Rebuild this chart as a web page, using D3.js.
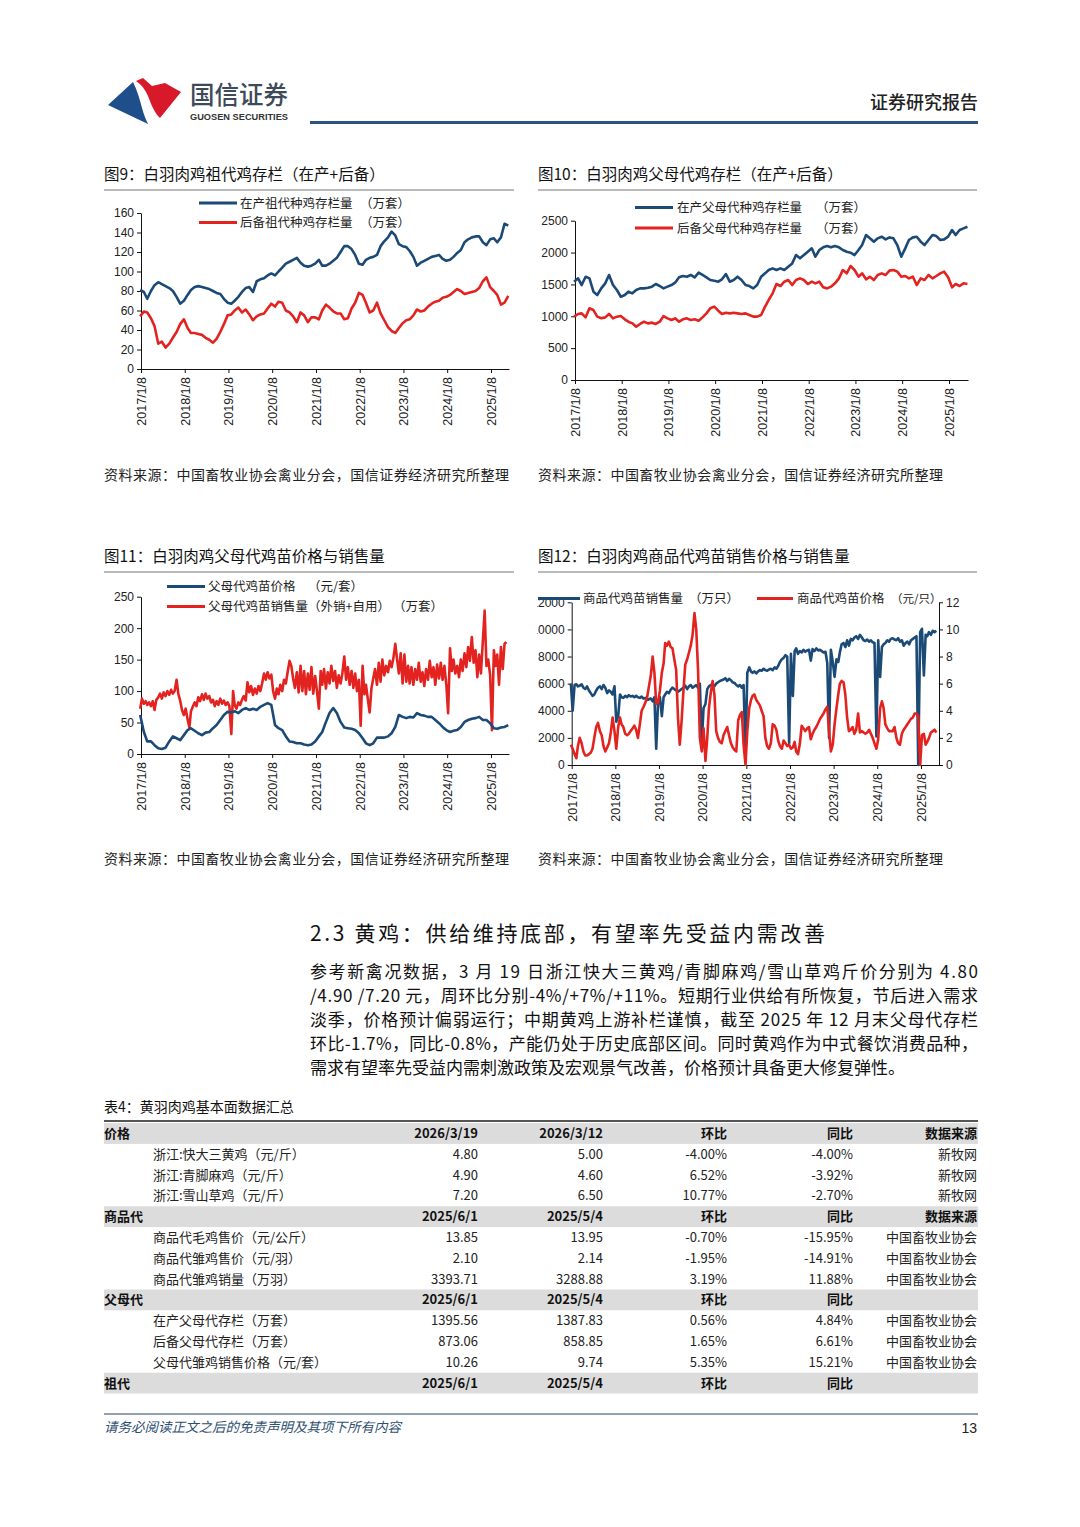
<!DOCTYPE html>
<html><head><meta charset="utf-8">
<script src="https://cdn.jsdelivr.net/npm/d3@7"></script>
<style>body{margin:0;background:#fff}svg text{font-family:"Noto Sans CJK SC","Noto Sans",sans-serif}</style>
</head><body>
<svg id="page" width="1080" height="1527"></svg>
<script>
// ---------- DATA ----------
const yearTicks = d3.range(2017, 2026).map(y => new Date(y, 0, 8));
const months = d3.timeMonth.range(new Date(2017,0,1), new Date(2025,6,1)); // 2017-01 .. 2025-06
const halfMonths = d3.timeMonth.range(new Date(2017,0,1), new Date(2025,5,1)).flatMap(d => [d, d3.timeDay.offset(d,15)]);

// 图9 祖代 (万套)
const gpProducing = [81,79,72,80,86,89,87,85,83,80, 74,67,70,76,81,84,85,84,83,82, 80,78,77,72,68,67,70,74,79,83, 84,79,90,92,93,96,98,96,100,104, 108,110,112,114,109,106,105,106,108,112, 106,106,108,111,114,120,126,126,123,117, 108,107,112,114,115,117,126,131,135,141, 137,128,126,125,121,115,106,109,111,113, 115,116,117,113,111,112,115,119,122,130, 133,135,136,136,130,127,133,134,130,135, 149,147];
const gpReserve = [54,59,58,52,44,26,28,22,26,32, 38,46,51,42,37,37,36,35,32,30, 27,31,38,46,55,56,60,63,58,61, 56,50,54,56,57,62,67,64,69,68, 60,58,54,48,58,55,48,53,53,51, 60,66,63,59,57,57,51,52,62,68, 78,76,68,58,60,68,57,50,43,39, 37,42,47,50,51,55,61,59,60,64, 67,69,70,73,74,76,79,82,80,77, 78,79,80,83,90,94,84,80,76,66, 68,75];

// 图10 父母代 (万套)
const ppProducing = [1543,1595,1490,1620,1595,1386,1334,1438,1517,1648, 1490,1412,1307,1334,1386,1360,1412,1438,1438,1449, 1465,1506,1475,1438,1465,1490,1527,1611,1632,1621, 1648,1611,1684,1648,1611,1569,1558,1543,1580,1663, 1543,1569,1621,1569,1490,1475,1438,1490,1621,1674, 1726,1752,1726,1752,1726,1778,1830,1961,1909,1961, 2013,2066,1935,2040,2082,2103,2082,2103,2082,2040, 2013,1998,1961,2040,2118,2275,2223,2171,2223,2249, 2207,2238,2223,2118,1935,2066,2197,2238,2249,2171, 2118,2197,2275,2259,2197,2207,2249,2354,2275,2354, 2380,2406];
const ppReserve = [994,1036,1046,983,1125,1098,994,968,983,1036, 968,994,1004,952,915,889,837,879,915,889, 900,879,915,1004,968,941,968,915,952,968, 941,952,931,983,1046,1125,1151,1088,1036,1056, 1046,1056,1046,1036,1046,1020,994,994,1020,1151, 1255,1360,1506,1475,1543,1569,1490,1569,1595,1569, 1506,1543,1517,1543,1454,1438,1465,1517,1595,1726, 1674,1789,1726,1621,1674,1580,1621,1569,1648,1674, 1648,1716,1726,1700,1621,1632,1595,1621,1490,1595, 1569,1648,1595,1632,1674,1700,1611,1454,1506,1475, 1517,1506];

// 图11 父母代鸡苗 价格(元/套) 月度, 销售量(万套) 半月
const ppChickPrice = [62,35,20,20,14,9,8,10,20,28, 25,22,30,38,41,37,33,30,34,35, 41,46,54,62,67,66,68,65,70,73, 70,72,70,75,78,81,78,46,41,38, 28,20,19,17,17,15,14,15,20,28, 35,51,65,73,65,51,42,41,40,38, 33,25,17,14,17,26,26,26,28,33, 43,62,59,57,59,58,65,62,61,59, 59,54,49,43,38,35,37,38,43,51, 54,56,57,59,54,54,49,41,40,42, 43,46];
const ppChickSales = [72,88,80,84,78,82,76,84,70,86, 90,96,88,98,92,100,94,102,96,100, 118,95,85,70,62,72,55,42,68,75, 82,76,90,84,95,86,96,88,92,82, 86,76,84,78,88,80,85,78,82,76, 32,100,78,72,82,78,86,92,85,114, 98,108,94,104,96,108,100,112,128,118, 130,120,126,100,88,104,95,110,100,118, 112,130,148,140,120,105,130,98,140,100, 132,95,128,102,138,96,124,100,72,132, 110,135,104,130,112,140,116,132,105,125, 112,128,155,118,138,110,132,105,128,100, 118,45,140,95,110,88,66,105,120,135, 110,145,115,150,125,140,130,148,138,152, 175,150,128,160,112,158,115,140,112,138, 110,135,118,145,115,130,108,135,118,148, 122,138,110,142,120,145,118,140,110,65, 168,132,150,128,140,122,150,132,160,138, 170,148,186,145,165,122,158,128,180,228, 140,150,125,38,165,140,158,110,170,135, 175,178];

// 图12 商品代鸡苗 销售量(万只) 左轴, 价格(元/只) 右轴, 半月
const brChickSales = [6000,4000,5900,5950,5800,5850,5950,5700,5600,5800, 5500,5300,5100,5200,5500,5700,5800,5600,5900,5700, 5300,5500,5400,5200,5800,3200,3600,5200,5000,4950, 5100,5000,5150,5050,5100,5000,5100,5000,4950,5050, 4900,4950,4800,4850,4900,4700,5000,1200,4800,5000, 3600,5000,5200,5400,5300,5550,5700,5600,5500,5400, 5500,5600,5700,5850,5600,5800,5900,5700,5800,5900, 5700,6000,1600,4200,4500,5600,5800,5900,5950,5800, 6000,6100,6200,6250,6300,6400,6200,6350,6250,6100, 6050,5900,5800,5900,5700,5900,600,6800,7200,6900, 6800,6900,6750,6900,7000,6950,7100,7000,6950,7050, 7100,7000,7200,7100,7300,7600,7800,7900,8100,8000, 1600,8200,5100,8400,8600,8200,8400,8300,8500,8350, 8450,8500,7700,8550,8400,8600,8450,8500,8400,8300, 8350,7500,2000,8500,7600,6500,7800,7600,8300,8900, 9000,8700,9200,8800,9300,9200,9400,9500,9300,9600, 9400,9200,9150,9250,9100,9200,9050,9000,2100,9200, 6500,8700,8900,9000,9200,9100,9300,9350,9250,9200, 9350,9100,9200,8800,9000,9100,8900,9200,9300,9400, 9500,0,9800,10050,6600,9600,9500,9800,9600,9900, 9800,9900];
const brChickPrice = [1.5,1.2,0.8,0.5,1.4,2.0,1.6,1.0,0.7,0.7, 0.8,0.9,1.2,2.0,2.8,3.1,2.5,2.2,1.4,1.0, 1.3,1.6,2.4,3.5,2.5,1.2,2.8,3.5,3.0,2.8, 2.3,2.2,2.3,2.5,2.7,2.9,2.6,2.0,3.0,4.0, 4.3,4.6,5.0,5.8,6.6,8.0,6.8,4.5,4.6,5.5, 6.8,7.5,9.0,8.8,9.1,8.7,8.6,7.8,7.0,3.5, 1.5,3.2,5.5,7.4,7.8,8.3,8.8,9.6,11.2,10.0, 7.0,2.0,1.0,2.7,0.3,2.0,4.2,5.3,6.2,5.2, 2.5,2.0,1.7,1.6,2.2,2.5,2.8,2.2,1.6,1.3, 1.1,1.0,3.3,3.7,3.9,1.5,0.0,2.5,4.2,4.8, 5.1,5.2,4.8,4.6,4.4,4.0,3.6,2.0,1.4,1.2, 1.6,3.0,2.9,2.6,1.8,1.4,1.2,1.8,1.6,1.4, 1.5,1.2,1.3,1.7,1.0,0.8,1.6,2.9,2.7,2.5, 2.7,2.8,1.9,2.3,2.6,2.8,3.1,3.4,3.6,3.8, 4.1,4.3,2.5,1.0,1.5,3.0,4.2,5.2,6.0,6.2, 6.1,5.2,3.5,2.5,2.6,2.8,2.3,2.6,3.8,2.4, 2.5,2.4,2.3,2.4,2.6,2.3,2.0,1.6,1.2,1.9, 4.2,4.7,4.2,3.0,2.7,2.5,2.5,2.5,2.8,2.0, 1.6,1.5,2.3,2.6,2.8,3.0,3.2,3.4,3.5,3.8, 3.8,3.6,0.0,2.2,2.3,1.5,1.7,2.0,2.4,2.5, 2.6,2.4];

// Tick values
const ticks9 = d3.range(0, 161, 20);
const ticks10 = d3.range(0, 2501, 500);
const ticks11 = d3.range(0, 251, 50);
const ticks12L = d3.range(0, 12001, 2000);
const ticks12R = d3.range(0, 13, 2);

// Table
const tableHeads = [
  ['价格','2026/3/19','2026/3/12','环比','同比','数据来源'],
  ['商品代','2025/6/1','2025/5/4','环比','同比','数据来源'],
  ['父母代','2025/6/1','2025/5/4','环比','同比',''],
  ['祖代','2025/6/1','2025/5/4','环比','同比','']
];
const tableRows = [
  [['浙江:快大三黄鸡（元/斤）','4.80','5.00','-4.00%','-4.00%','新牧网'],
   ['浙江:青脚麻鸡（元/斤）','4.90','4.60','6.52%','-3.92%','新牧网'],
   ['浙江:雪山草鸡（元/斤）','7.20','6.50','10.77%','-2.70%','新牧网']],
  [['商品代毛鸡售价（元/公斤）','13.85','13.95','-0.70%','-15.95%','中国畜牧业协会'],
   ['商品代雏鸡售价（元/羽）','2.10','2.14','-1.95%','-14.91%','中国畜牧业协会'],
   ['商品代雏鸡销量（万羽）','3393.71','3288.88','3.19%','11.88%','中国畜牧业协会']],
  [['在产父母代存栏（万套）','1395.56','1387.83','0.56%','4.84%','中国畜牧业协会'],
   ['后备父母代存栏（万套）','873.06','858.85','1.65%','6.61%','中国畜牧业协会'],
   ['父母代雏鸡销售价格（元/套）','10.26','9.74','5.35%','15.21%','中国畜牧业协会']],
  []
];
const paragraph = [
  '参考新禽况数据，3 月 19 日浙江快大三黄鸡/青脚麻鸡/雪山草鸡斤价分别为 4.80',
  '/4.90 /7.20 元，周环比分别-4%/+7%/+11%。短期行业供给有所恢复，节后进入需求',
  '淡季，价格预计偏弱运行；中期黄鸡上游补栏谨慎，截至 2025 年 12 月末父母代存栏',
  '环比-1.7%，同比-0.8%，产能仍处于历史底部区间。同时黄鸡作为中式餐饮消费品种，',
  '需求有望率先受益内需刺激政策及宏观景气改善，价格预计具备更大修复弹性。'
];

// ---------- DRAW ----------
const svg = d3.select('#page');
const NUM = '"Liberation Sans",Arial,sans-serif';
const BLUE = '#1b4a77', RED = '#e2231f';
const fmt = d3.timeFormat('%Y/%-m/%-d');

svg.append('defs').append('clipPath').attr('id','clipL').append('rect').attr('x',537).attr('y',0).attr('width',543).attr('height',1527);

// header
svg.append('path').attr('d','M108,105 L133,82 C137,90 140,100 142,108 C144,115 146,120 148,124 Z').attr('fill','#1f4f8a');
svg.append('path').attr('d','M136,81 L143,78 L152,86 L165,83 L181,92 L160,118 C154,112 151,104 148,96 C145,89 141,84 136,81 Z').attr('fill','#d7192a');
svg.append('text').attr('x',190).attr('y',104).attr('font-size',25).attr('font-weight',500).attr('fill','#3d4a5a').attr('textLength',98).attr('lengthAdjust','spacingAndGlyphs').text('国信证券');
svg.append('text').attr('x',190).attr('y',119.5).attr('font-size',9.5).attr('font-weight',700).attr('fill','#333').style('font-family',NUM).attr('textLength',98).attr('lengthAdjust','spacingAndGlyphs').text('GUOSEN SECURITIES');
svg.append('rect').attr('x',310).attr('y',121).attr('width',668).attr('height',3).attr('fill','#2b5580');
svg.append('text').attr('x',978).attr('y',109).attr('text-anchor','end').attr('font-size',18).attr('font-weight',500).attr('fill','#222').text('证券研究报告');

function drawChart(c){
  const g = svg.append('g');
  g.append('text').attr('x',c.tx).attr('y',c.ty).attr('font-size',15.5).attr('fill','#111').text(c.title);
  g.append('line').attr('x1',c.tx).attr('x2',c.tx2).attr('y1',c.ty+10).attr('y2',c.ty+10).attr('stroke','#777').attr('stroke-width',1);
  g.append('text').attr('x',c.tx).attr('y',c.sy).attr('font-size',14).attr('fill','#222').attr('textLength',c.sLen).attr('lengthAdjust','spacing').text('资料来源：中国畜牧业协会禽业分会，国信证券经济研究所整理');

  const xa = d3.scaleTime().domain([yearTicks[0], yearTicks[8]]).range([c.x0, c.x8]);
  const x = d3.scaleTime().domain([xa.invert(c.x0-1), xa.invert(c.xEnd)]).range([c.x0-1, c.xEnd]);
  const y = d3.scaleLinear().domain([0, c.yMax]).range([c.y0, c.yTop]);
  const yR = c.yMaxR ? d3.scaleLinear().domain([0, c.yMaxR]).range([c.y0, c.yTop]) : null;

  const gx = g.append('g').attr('transform',`translate(0,${c.y0})`)
    .call(d3.axisBottom(x).tickValues(yearTicks).tickFormat(fmt).tickSize(4).tickSizeOuter(0));
  gx.selectAll('text').attr('x',-8).attr('y',0).attr('dy','0.35em').attr('transform','rotate(-90)').style('text-anchor','end').attr('font-size',12.5);

  const wrapY = g.append('g');
  if (c.clipLeft) wrapY.attr('clip-path','url(#clipL)');
  const gy = wrapY.append('g').attr('transform',`translate(${c.x0},0)`)
    .call(d3.axisLeft(y).tickValues(c.yTicks).tickFormat(d3.format('d')).tickSize(4).tickSizeOuter(0));
  let axes = [gx, gy];
  if (yR) {
    const gr = g.append('g').attr('transform',`translate(${c.xEnd},0)`)
      .call(d3.axisRight(yR).tickValues(c.yTicksR).tickSize(4).tickSizeOuter(0));
    axes.push(gr);
  }
  axes.forEach(a => {
    a.selectAll('.domain,.tick line').attr('stroke','#111');
    a.selectAll('text').attr('fill','#222').style('font-family',NUM);
  });
  gy.selectAll('text').attr('font-size',12);
  if (axes[2]) axes[2].selectAll('text').attr('font-size',12);

  c.series.forEach(s => {
    const ys = s.right ? yR : y;
    g.append('path').datum(d3.zip(s.dates, s.values))
      .attr('fill','none').attr('stroke',s.color).attr('stroke-width',2.6).attr('stroke-linejoin','round')
      .attr('d', d3.line().x(d => x(d[0])).y(d => ys(d[1])));
  });

  c.legend.forEach(l => {
    g.append('line').attr('x1',l.x1).attr('x2',l.x2).attr('y1',l.y).attr('y2',l.y).attr('stroke',l.color).attr('stroke-width',3);
    l.texts.forEach(t => g.append('text').attr('x',t[0]).attr('y',l.y+4.5).attr('font-size',t[2]||12.5).attr('fill','#222').text(t[1]));
  });
}

// 图9
drawChart({tx:104, tx2:514, ty:180, sy:480, sLen:405, title:'图9：白羽肉鸡祖代鸡存栏（在产+后备）',
  x0:141, x8:491, xEnd:509, y0:369, yTop:213, yMax:160, yTicks:ticks9,
  series:[{dates:months, values:gpReserve, color:RED},{dates:months, values:gpProducing, color:BLUE}],
  legend:[{x1:199,x2:237,y:203,color:BLUE,texts:[[240,'在产祖代种鸡存栏量'],[360,'（万套）']]},
          {x1:199,x2:237,y:222.5,color:RED,texts:[[240,'后备祖代种鸡存栏量'],[360,'（万套）']]}]});

// 图10
drawChart({tx:538, tx2:977, ty:180, sy:480, sLen:405, title:'图10：白羽肉鸡父母代鸡存栏（在产+后备）',
  x0:575, x8:949, xEnd:968, y0:380, yTop:220.7, yMax:2500, yTicks:ticks10,
  series:[{dates:months, values:ppReserve, color:RED},{dates:months, values:ppProducing, color:BLUE}],
  legend:[{x1:635,x2:673,y:207.5,color:BLUE,texts:[[677,'在产父母代种鸡存栏量'],[816,'（万套）']]},
          {x1:635,x2:673,y:228,color:RED,texts:[[677,'后备父母代种鸡存栏量'],[816,'（万套）']]}]});

// 图11
drawChart({tx:104, tx2:514, ty:562, sy:864, sLen:405, title:'图11：白羽肉鸡父母代鸡苗价格与销售量',
  x0:141, x8:491, xEnd:509, y0:754, yTop:596.7, yMax:250, yTicks:ticks11,
  series:[{dates:halfMonths, values:ppChickSales, color:RED},{dates:months, values:ppChickPrice, color:BLUE}],
  legend:[{x1:167,x2:205,y:586.5,color:BLUE,texts:[[208,'父母代鸡苗价格'],[308,'（元/套）']]},
          {x1:167,x2:205,y:606.5,color:RED,texts:[[208,'父母代鸡苗销售量（外销+自用）'],[393,'（万套）']]}]});

// 图12
drawChart({tx:538, tx2:977, ty:562, sy:864, sLen:405, title:'图12：白羽肉鸡商品代鸡苗销售价格与销售量',
  x0:571.7, x8:921, xEnd:939, y0:765, yTop:602.3, yMax:12000, yTicks:ticks12L, clipLeft:true,
  yMaxR:12, yTicksR:ticks12R,
  series:[{dates:halfMonths, values:brChickSales, color:BLUE},{dates:halfMonths, values:brChickPrice, color:RED, right:true}],
  legend:[{x1:538,x2:580,y:598.5,color:BLUE,texts:[[583,'商品代鸡苗销售量'],[689,'（万只）']]},
          {x1:757,x2:793,y:598.5,color:RED,texts:[[797,'商品代鸡苗价格'],[891,'（元/只）',11.5]]}]});

// section heading and paragraph
svg.append('text').attr('x',310).attr('y',941).attr('font-size',21).attr('fill','#111').attr('textLength',515).attr('lengthAdjust','spacing').text('2.3 黄鸡：供给维持底部，有望率先受益内需改善');
paragraph.forEach((t,i) => {
  const el = svg.append('text').attr('x',310).attr('y',978 + i*24).attr('font-size',17).attr('fill','#111').text(t);
  if (i < paragraph.length - 1) el.attr('textLength',668).attr('lengthAdjust','spacing');
});

// table
svg.append('text').attr('x',104).attr('y',1112).attr('font-size',14).attr('fill','#111').text('表4：黄羽肉鸡基本面数据汇总');
svg.append('line').attr('x1',104).attr('x2',978).attr('y1',1121).attr('y2',1121).attr('stroke','#555').attr('stroke-width',2);
const colX = [null, 478, 603, 727, 853, 977];
let rowY = 1133.5;
const step = 20.8;
tableHeads.forEach((h, si) => {
  svg.append('rect').attr('x',104).attr('y',rowY-10.4).attr('width',874).attr('height',20.8).attr('fill','#dcdcdc');
  h.forEach((t, ci) => {
    if (!t) return;
    svg.append('text').attr('x', ci === 0 ? 104 : colX[ci]).attr('y', rowY+4.5)
      .attr('text-anchor', ci === 0 ? 'start' : 'end').attr('font-size',13).attr('font-weight',700).attr('fill','#111').text(t);
  });
  rowY += step;
  tableRows[si].forEach(r => {
    r.forEach((t, ci) => {
      svg.append('text').attr('x', ci === 0 ? 153 : colX[ci]).attr('y', rowY+4.5)
        .attr('text-anchor', ci === 0 ? 'start' : 'end').attr('font-size',13).attr('fill','#222').text(t);
    });
    rowY += step;
  });
});

// footer
svg.append('line').attr('x1',104).attr('x2',978).attr('y1',1414).attr('y2',1414).attr('stroke','#6d8098').attr('stroke-width',1.5);
svg.append('text').attr('x',104).attr('y',1432).attr('font-size',13.5).attr('font-style','italic').attr('fill','#2f4f72').text('请务必阅读正文之后的免责声明及其项下所有内容');
svg.append('text').attr('x',977).attr('y',1433).attr('text-anchor','end').attr('font-size',14).attr('fill','#222').style('font-family',NUM).text('13');
</script>
</body></html>
